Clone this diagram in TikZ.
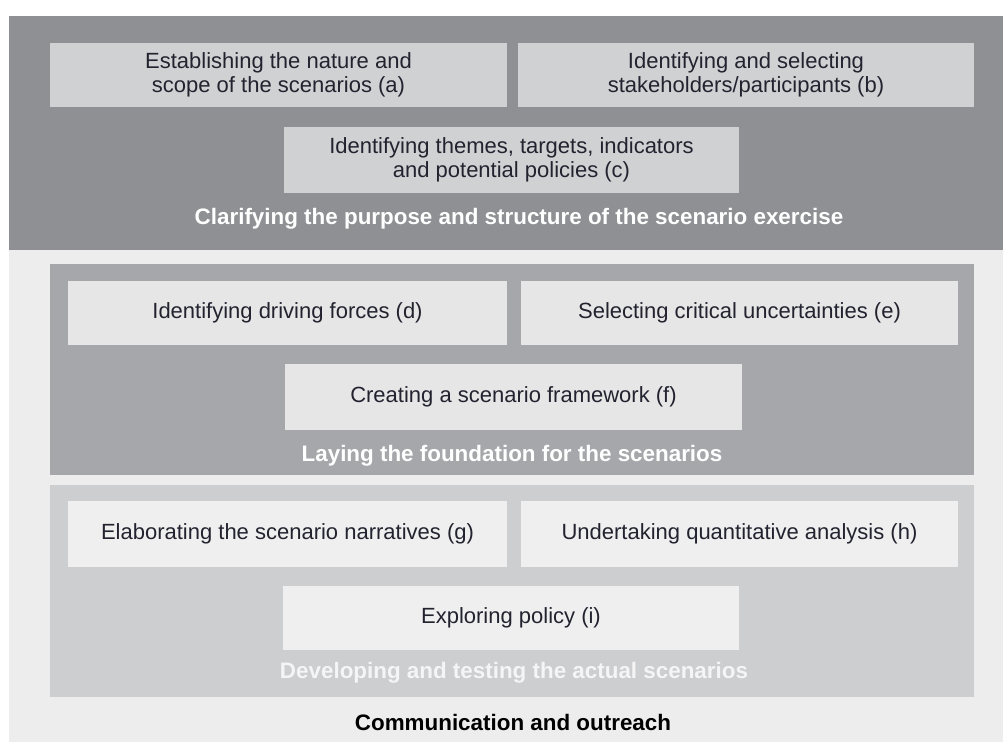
\documentclass[tikz,border=0pt]{standalone}
\usepackage{fontspec}
\setmainfont{Liberation Sans}
\usepackage{xcolor}
\usepackage{tikz}
\usetikzlibrary{positioning}

\definecolor{bgpale}{RGB}{237,237,237}
\definecolor{banddark}{RGB}{143,144,148}
\definecolor{bandmid}{RGB}{166,167,171}
\definecolor{bandlight}{RGB}{205,206,208}
\definecolor{boxtop}{RGB}{208,209,211}
\definecolor{boxmid}{RGB}{230,230,230}
\definecolor{boxlow}{RGB}{239,239,239}
\definecolor{inkdark}{RGB}{35,35,48}
\definecolor{inkpale}{RGB}{245,245,245}

\tikzstyle{bandnode}=[draw=none, shape=rectangle, inner sep=0pt]
\tikzstyle{stepbox}=[draw=none, shape=rectangle, inner sep=2pt, align=center, text=inkdark, font=\fontsize{22}{24}\selectfont]
\tikzstyle{phaselabel}=[inner sep=0pt, anchor=base, font=\fontsize{22.4}{24}\selectfont\bfseries]

\begin{document}
\begin{tikzpicture}[x=1pt, y=-1pt]
\useasboundingbox (0,0) rectangle (1003,742);
% background panels
\node [bandnode, fill=bgpale, minimum width=994pt, minimum height=726pt] (outer) at (506,379) {};
\node [bandnode, fill=banddark, minimum width=994pt, minimum height=234pt] (purpose) at (506,133) {};
\node [bandnode, fill=bandmid, minimum width=924pt, minimum height=211pt] (foundation) at (512,369.5) {};
\node [bandnode, fill=bandlight, minimum width=924pt, minimum height=212pt] (developing) at (512,591) {};

% first phase
\node [stepbox, fill=boxtop, minimum width=457pt, minimum height=64pt] (a) at (278.5,75) {Establishing the nature and\\scope of the scenarios (a)};
\node [stepbox, fill=boxtop, minimum width=456pt, minimum height=64pt] (b) at (746,75) {Identifying and selecting\\stakeholders/participants (b)};
\node [stepbox, fill=boxtop, minimum width=455pt, minimum height=66pt] (c) at (511.5,160) {Identifying themes, targets, indicators\\and potential policies (c)};
\node [phaselabel, text=white] (purposelbl) at (519,224) {Clarifying the purpose and structure of the scenario exercise};

% second phase
\node [stepbox, fill=boxmid, minimum width=439pt, minimum height=64pt] (d) at (287.5,313) {Identifying driving forces (d)};
\node [stepbox, fill=boxmid, minimum width=437pt, minimum height=64pt] (e) at (739.5,313) {Selecting critical uncertainties (e)};
\node [stepbox, fill=boxmid, minimum width=457pt, minimum height=66pt] (f) at (513.5,397) {Creating a scenario framework (f)};
\node [phaselabel, text=white] (foundationlbl) at (512,461) {Laying the foundation for the scenarios};

% third phase
\node [stepbox, fill=boxlow, minimum width=439pt, minimum height=66pt] (g) at (287.5,534) {Elaborating the scenario narratives (g)};
\node [stepbox, fill=boxlow, minimum width=437pt, minimum height=66pt] (h) at (739.5,534) {Undertaking quantitative analysis (h)};
\node [stepbox, fill=boxlow, minimum width=456pt, minimum height=64pt] (i) at (511,618) {Exploring policy (i)};
\node [phaselabel, text=inkpale] (developinglbl) at (514,678) {Developing and testing the actual scenarios};

\node [phaselabel, text=black] (outreach) at (513,730) {Communication and outreach};
\end{tikzpicture}
\end{document}
